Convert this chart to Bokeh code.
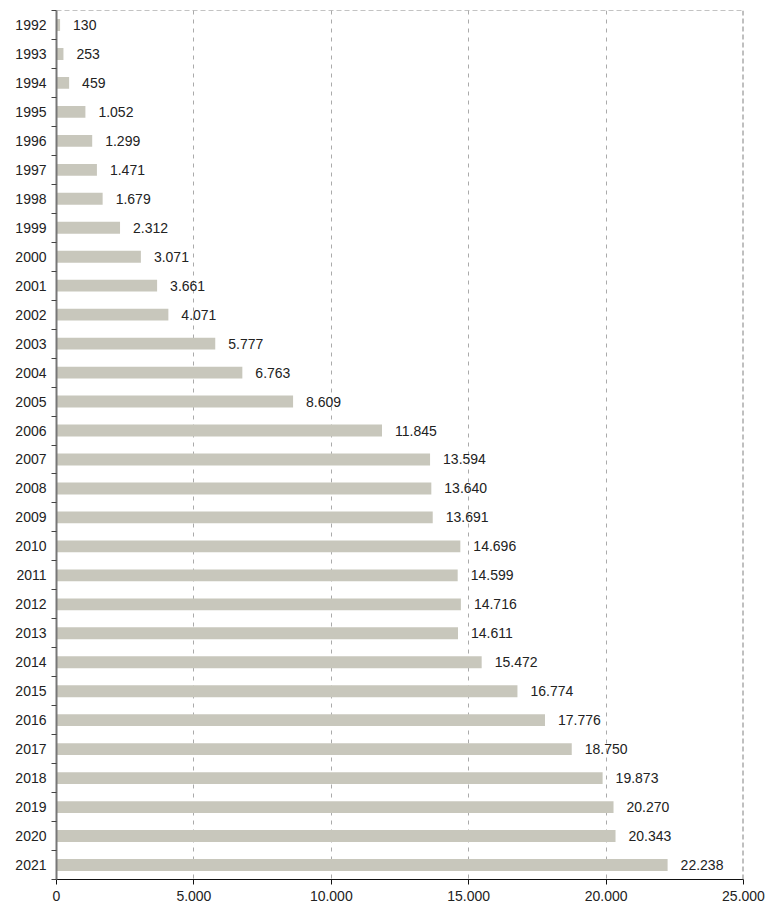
from bokeh.plotting import figure
from bokeh.models import ColumnDataSource, FixedTicker, Span, Range1d
from bokeh.embed import file_html
from bokeh.resources import INLINE
from bokeh.core.properties import value

years = [str(y) for y in range(1992, 2022)]
values = [130, 253, 459, 1052, 1299, 1471, 1679, 2312, 3071, 3661, 4071, 5777,
          6763, 8609, 11845, 13594, 13640, 13691, 14696, 14599, 14716, 14611,
          15472, 16774, 17776, 18750, 19873, 20270, 20343, 22238]
x_ticks = [0, 5000, 10000, 15000, 20000, 25000]
x_tick_labels = ["0", "5.000", "10.000", "15.000", "20.000", "25.000"]

def fmt(v):
    return f"{v:,}".replace(",", ".")

idx = list(range(len(years)))
src = ColumnDataSource(dict(y=idx, v=values, lab=[fmt(v) for v in values]))

p = figure(width=767, height=903, output_backend="svg", toolbar_location=None,
           x_range=Range1d(0, 25000), y_range=Range1d(len(years) - 0.5, -0.5),
           min_border_left=56, min_border_right=24, min_border_top=10, min_border_bottom=23)
p.outline_line_color = None
p.background_fill_color = "white"

p.hbar(y="y", right="v", left=0, height=0.41, source=src, color="#c8c7bc", line_color=None)
p.text(x="v", y="y", text="lab", source=src, x_offset=13, text_baseline="middle",
       text_font=value("Liberation Sans"), text_font_size="14px", text_color="#222222")

# x axis
p.xaxis.ticker = FixedTicker(ticks=x_ticks)
p.xaxis.major_label_overrides = {t: l for t, l in zip(x_ticks, x_tick_labels)}
p.xaxis.major_label_text_font = "Liberation Sans"
p.xaxis.major_label_text_font_size = "14px"
p.xaxis.major_label_text_color = "#222222"
p.xaxis.axis_line_color = "#111111"
p.xaxis.major_tick_line_color = "#111111"
p.xaxis.major_tick_in = 0
p.xaxis.major_tick_out = 5
p.xaxis.minor_tick_line_color = None
p.xaxis.major_label_standoff = 6

# y axis
p.yaxis.ticker = FixedTicker(ticks=idx, minor_ticks=[i + 0.5 for i in idx] + [-0.5])
p.yaxis.major_label_overrides = {i: y for i, y in zip(idx, years)}
p.yaxis.major_label_text_font = "Liberation Sans"
p.yaxis.major_label_text_font_size = "14px"
p.yaxis.major_label_text_color = "#222222"
p.yaxis.axis_line_color = "#777777"
p.yaxis.axis_line_width = 2
p.yaxis.major_tick_line_color = None
p.yaxis.major_tick_in = 0
p.yaxis.major_tick_out = 0
p.yaxis.minor_tick_line_color = "#444444"
p.yaxis.minor_tick_in = 0
p.yaxis.minor_tick_out = 5
p.yaxis.major_label_standoff = 5

p.ygrid.grid_line_color = None
p.xgrid.ticker = FixedTicker(ticks=x_ticks[1:-1])
p.xgrid.grid_line_color = "#aaaaaa"
p.xgrid.grid_line_dash = "4 5"
p.xgrid.grid_line_width = 1

p.add_layout(Span(location=-0.5, dimension="width", line_color="#888888",
                  line_dash="5 3", line_width=1))
p.add_layout(Span(location=25000, dimension="height", line_color="#808080",
                  line_dash="5 3", line_width=2))

open("out.html", "w").write(file_html(p, INLINE))
